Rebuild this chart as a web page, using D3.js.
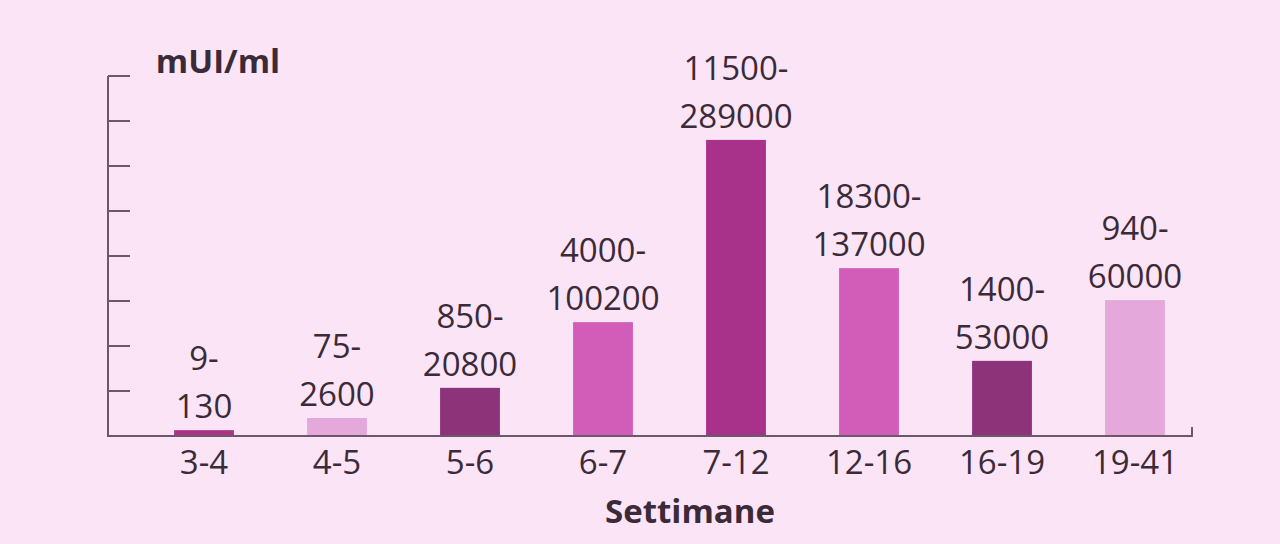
<!DOCTYPE html>
<html><head><meta charset="utf-8">
<script src="https://cdn.jsdelivr.net/npm/d3@7"></script>
<style>body{margin:0;background:#fce4f7}svg{display:block}text{font-family:"Open Sans","Noto Sans",sans-serif;fill:#3b2a37}</style>
</head><body><svg id="c" width="1280" height="544"></svg>
<script>
const categories=["3-4","4-5","5-6","6-7","7-12","12-16","16-19","19-41"];
const lowLabels=["9-","75-","850-","4000-","11500-","18300-","1400-","940-"];
const highLabels=["130","2600","20800","100200","289000","137000","53000","60000"];
// visual bar heights in axis tick units (chart is illustrative, not to scale)
const heights=[0.13,0.4,1.07,2.53,6.58,3.73,1.67,3.02];
const colors=["#ab3285","#e4a8db","#8c3379","#d25db9","#a8318a","#d25db9","#8c3379","#e4a8db"];
const yTicks=[0,1,2,3,4,5,6,7,8];

const svg=d3.select("#c");
svg.append("rect").attr("width",1280).attr("height",544).attr("fill","#fce4f7");
const x=d3.scaleBand().domain(categories).range([137.5,1201.5]).paddingInner(0.55).paddingOuter(0.275);
const y=d3.scaleLinear().domain([0,8]).range([436,76]);
const ax="#6b5868";
// y axis
svg.append("line").attr("x1",108).attr("x2",108).attr("y1",y(8)).attr("y2",y(0)).attr("stroke",ax).attr("stroke-width",2);
svg.selectAll(".yt").data(yTicks.slice(1)).join("line").attr("x1",108).attr("x2",130)
 .attr("y1",d=>y(d)).attr("y2",d=>y(d)).attr("stroke",ax).attr("stroke-width",2);
// bars
svg.selectAll(".bar").data(categories).join("rect")
 .attr("x",d=>x(d)).attr("width",x.bandwidth())
 .attr("y",(d,i)=>y(heights[i])).attr("height",(d,i)=>y(0)-y(heights[i]))
 .attr("fill",(d,i)=>colors[i]);
// x axis
svg.append("line").attr("x1",107).attr("x2",1193).attr("y1",y(0)).attr("y2",y(0)).attr("stroke",ax).attr("stroke-width",2);
svg.append("line").attr("x1",1192).attr("x2",1192).attr("y1",y(0)).attr("y2",y(0)-9).attr("stroke",ax).attr("stroke-width",2);
const cx=d=>x(d)+x.bandwidth()/2;
svg.selectAll(".xl").data(categories).join("text").attr("x",cx).attr("y",474)
 .attr("text-anchor","middle").attr("font-size",33).text(d=>d);
svg.selectAll(".l1").data(categories).join("text").attr("x",cx).attr("y",(d,i)=>y(heights[i])-60)
 .attr("text-anchor","middle").attr("font-size",33).text((d,i)=>lowLabels[i]);
svg.selectAll(".l2").data(categories).join("text").attr("x",cx).attr("y",(d,i)=>y(heights[i])-12)
 .attr("text-anchor","middle").attr("font-size",33).text((d,i)=>highLabels[i]);
svg.append("text").attr("x",218).attr("y",73).attr("text-anchor","middle").attr("font-size",33).attr("font-weight","bold").text("mUI/ml");
svg.append("text").attr("x",690).attr("y",523).attr("text-anchor","middle").attr("font-size",33).attr("font-weight","bold").text("Settimane");
</script></body></html>
